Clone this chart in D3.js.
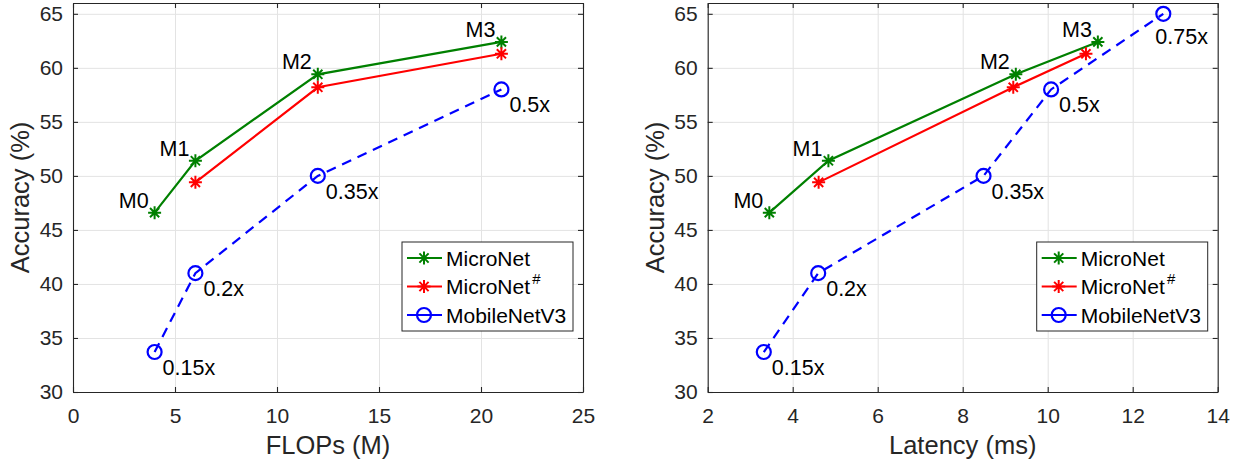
<!DOCTYPE html>
<html>
<head>
  <style>
    body { margin: 0; background: #fff; }
    svg { display: block; font-family: "Liberation Sans", Arial, sans-serif; }
    .grid line { stroke: #e3e3e3; stroke-width: 1; }
    .grid path { display: none; }
    .ax path, .ax line { stroke: #262626; stroke-width: 1.1; }
    .ax text { fill: #262626; font-size: 21px; font-family: "Liberation Sans", Arial, sans-serif; }
  </style>
</head>
<body>
<script src="https://d3js.org/d3.v7.min.js"></script>
<script>
  // Accuracy values (%)
  const accMicro = [46.6, 51.4, 59.4, 62.4];
  const accMicroSharp = [49.4, 58.2, 61.3];
  const accMobile = [33.7, 41.0, 50.0, 58.0, 65.0];

  // FLOPs (M)
  const flopsMicro = [4, 6, 12, 21];
  const flopsMicroSharp = [6, 12, 21];
  const flopsMobile = [4, 6, 12, 21];

  // Latency (ms)
  const latMicro = [3.45, 4.84, 9.25, 11.18];
  const latMicroSharp = [4.61, 9.19, 10.9];
  const latMobile = [3.32, 4.6, 8.49, 10.08, 12.72];

  const microLabels = ["M0", "M1", "M2", "M3"];
  const mobileLabels = ["0.15x", "0.2x", "0.35x", "0.5x", "0.75x"];

  const accTicks = [30, 35, 40, 45, 50, 55, 60, 65];
  const flopsTicks = [0, 5, 10, 15, 20, 25];
  const latTicks = [2, 4, 6, 8, 10, 12, 14];

  const W = 1241, H = 462;
  const svg = d3.select("body").append("svg").attr("width", W).attr("height", H);

  const green = "#008000", red = "#ff0000", blue = "#0000ff";
  const labelSize = 21.5, legendSize = 21;

  function star(r) {
    const d = r * 0.707;
    return `M${-r},0L${r},0M0,${-r}L0,${r}M${-d},${-d}L${d},${d}M${-d},${d}L${d},${-d}`;
  }

  function panel(cfg) {
    const x = d3.scaleLinear().domain(cfg.xDomain).range(cfg.xRange);
    const y = d3.scaleLinear().domain([30, 66]).range([392, 3]);
    const [x0, x1] = cfg.xRange;
    const g = svg.append("g");

    // grid
    g.append("g").attr("class", "grid")
      .attr("transform", "translate(0,392)")
      .call(d3.axisBottom(x).tickValues(cfg.xTicks).tickSize(-389).tickFormat(""));
    g.append("g").attr("class", "grid")
      .attr("transform", `translate(${x0},0)`)
      .call(d3.axisLeft(y).tickValues(accTicks).tickSize(-(x1 - x0)).tickFormat(""));

    // series
    const series = [
      { xs: cfg.micro, ys: accMicro, color: green, dash: null, mark: "star" },
      { xs: cfg.microSharp, ys: accMicroSharp, color: red, dash: null, mark: "star" },
      { xs: cfg.mobile, ys: accMobile.slice(0, cfg.mobile.length), color: blue, dash: "10,7", mark: "circle" }
    ];
    series.forEach(s => {
      const pts = s.xs.map((v, i) => [v, s.ys[i]]);
      g.append("path")
        .datum(pts)
        .attr("fill", "none")
        .attr("stroke", s.color)
        .attr("stroke-width", 2.2)
        .attr("stroke-dasharray", s.dash)
        .attr("d", d3.line().x(d => x(d[0])).y(d => y(d[1])));
      pts.forEach(p => {
        if (s.mark === "star") {
          g.append("path")
            .attr("transform", `translate(${x(p[0])},${y(p[1])})`)
            .attr("d", star(6.5))
            .attr("stroke", s.color).attr("stroke-width", 2).attr("fill", "none");
        } else {
          g.append("circle")
            .attr("cx", x(p[0])).attr("cy", y(p[1])).attr("r", 7)
            .attr("stroke", s.color).attr("stroke-width", 2.2).attr("fill", "none");
        }
      });
    });

    // axes (ticks pointing inward, on all four sides)
    g.append("g").attr("class", "ax")
      .attr("transform", "translate(0,392)")
      .call(d3.axisBottom(x).tickValues(cfg.xTicks).tickSizeInner(-5).tickSizeOuter(0).tickPadding(16));
    g.append("g").attr("class", "ax")
      .attr("transform", `translate(${x0},0)`)
      .call(d3.axisLeft(y).tickValues(accTicks).tickSizeInner(-5).tickSizeOuter(0).tickPadding(10));
    g.append("g").attr("class", "ax")
      .attr("transform", "translate(0,3)")
      .call(d3.axisTop(x).tickValues(cfg.xTicks).tickSizeInner(-5).tickSizeOuter(0).tickFormat(""));
    g.append("g").attr("class", "ax")
      .attr("transform", `translate(${x1},0)`)
      .call(d3.axisRight(y).tickValues(accTicks).tickSizeInner(-5).tickSizeOuter(0).tickFormat(""));

    // axis labels
    g.append("text")
      .attr("x", (x0 + x1) / 2).attr("y", 454)
      .attr("text-anchor", "middle").attr("fill", "#262626").attr("font-size", 25.5)
      .text(cfg.xLabel);
    g.append("text")
      .attr("transform", `translate(${x0 - 44},197.5) rotate(-90)`)
      .attr("text-anchor", "middle").attr("fill", "#262626").attr("font-size", 25.5)
      .text("Accuracy (%)");

    // point labels
    cfg.micro.forEach((v, i) => {
      g.append("text")
        .attr("x", x(v) - 6).attr("y", y(accMicro[i]) - 5)
        .attr("text-anchor", "end").attr("font-size", labelSize).attr("fill", "#000")
        .text(microLabels[i]);
    });
    cfg.mobile.forEach((v, i) => {
      const t = g.append("text")
        .attr("x", x(v) + 8).attr("y", y(accMobile[i]) + 23)
        .attr("font-size", labelSize).attr("fill", "#000")
        .text(mobileLabels[i]);
      const len = t.node().getComputedTextLength();
      if (x(v) + 8 + len > x1 - 2) {
        t.attr("x", x(v) - 8).attr("y", y(accMobile[i]) + 30);
      }
    });

    // legend
    const lx = x1 - 181, ly = 242;
    const lg = g.append("g").attr("transform", `translate(${lx},${ly})`);
    lg.append("rect").attr("width", 171).attr("height", 89)
      .attr("fill", "#fff").attr("stroke", "#262626").attr("stroke-width", 1);
    const items = [
      { name: "MicroNet", color: green, mark: "star" },
      { name: "MicroNet", sup: "#", color: red, mark: "star" },
      { name: "MobileNetV3", color: blue, mark: "circle" }
    ];
    items.forEach((it, i) => {
      const cy = 16 + i * 28.5;
      lg.append("line").attr("x1", 5).attr("x2", 40).attr("y1", cy).attr("y2", cy)
        .attr("stroke", it.color).attr("stroke-width", 2.2);
      if (it.mark === "star") {
        lg.append("path").attr("transform", `translate(22,${cy})`).attr("d", star(6.5))
          .attr("stroke", it.color).attr("stroke-width", 2).attr("fill", "none");
      } else {
        lg.append("circle").attr("cx", 22).attr("cy", cy).attr("r", 7)
          .attr("stroke", it.color).attr("stroke-width", 2.2).attr("fill", "none");
      }
      const t = lg.append("text").attr("x", 44).attr("y", cy + 7.5)
        .attr("font-size", legendSize).attr("fill", "#000").text(it.name);
      if (it.sup) {
        t.append("tspan").attr("dy", -10).attr("dx", 2).attr("font-size", 15)
          .attr("font-style", "italic").text(it.sup);
      }
    });
  }

  panel({
    xDomain: [0, 25], xRange: [73, 583], xTicks: flopsTicks, xLabel: "FLOPs (M)",
    micro: flopsMicro, microSharp: flopsMicroSharp, mobile: flopsMobile
  });
  panel({
    xDomain: [2, 14], xRange: [707.7, 1217.7], xTicks: latTicks, xLabel: "Latency (ms)",
    micro: latMicro, microSharp: latMicroSharp, mobile: latMobile
  });
</script>
</body>
</html>
